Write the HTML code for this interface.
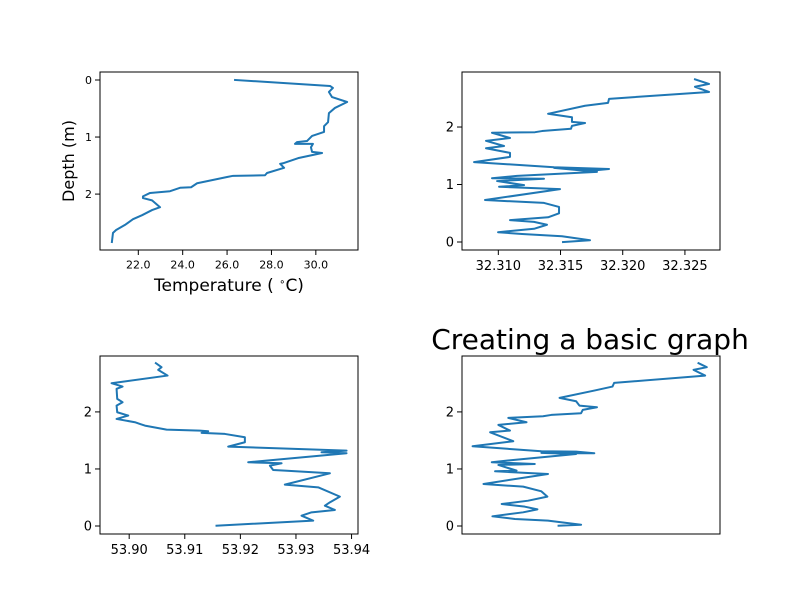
<!DOCTYPE html>
<html><head><meta charset="utf-8"><style>
body{margin:0;background:#fff;}
svg{display:block;font-family:"DejaVu Sans","Liberation Sans",sans-serif;}
</style></head><body>
<svg id="fig" width="800" height="600" viewBox="0 0 800 600">
<text x="590" y="349" font-size="28" text-anchor="middle" fill="#000">Creating a basic graph</text>
<text x="229" y="291" font-size="17" text-anchor="middle" fill="#000">Temperature ( <tspan font-size="10" dy="-6">∘</tspan><tspan dy="6">C)</tspan></text>
<text transform="translate(74,161) rotate(-90)" font-size="16" text-anchor="middle" fill="#000">Depth (m)</text>
</svg>
<script>
// Panel 1: temperature profile
const tempDepth=[0,0.105,0.14,0.21,0.30,0.386,0.49,0.58,0.74,0.81,0.91,0.98,1.07,1.09,1.12,1.12,1.18,1.26,1.28,1.37,1.46,1.47,1.54,1.63,1.67,1.68,1.70,1.81,1.88,1.89,1.95,1.98,2.04,2.07,2.11,2.23,2.28,2.37,2.44,2.54,2.63,2.68,2.84];
const tempValues=[26.36,30.64,30.77,30.59,30.73,31.41,30.86,30.59,30.55,30.37,30.37,29.83,29.60,29.15,29.06,29.87,29.78,29.83,30.28,29.20,28.52,28.39,28.57,27.80,27.71,26.27,26.00,24.65,24.38,23.88,23.43,22.53,22.21,22.21,22.62,22.98,22.62,22.17,21.76,21.40,21.00,20.86,20.81];
const tempTicks=[22,24,26,28,30];
const tempTickLabels=["22.0","24.0","26.0","28.0","30.0"];
// Panel 2: salinity profile
const salDepth=[2.83,2.75,2.70,2.61,2.49,2.42,2.37,2.23,2.17,2.09,2.07,2.02,1.97,1.93,1.91,1.90,1.81,1.76,1.67,1.63,1.55,1.48,1.39,1.30,1.27,1.25,1.29,1.22,1.15,1.11,1.10,1.06,0.99,0.96,0.92,0.73,0.68,0.61,0.50,0.43,0.38,0.35,0.30,0.23,0.17,0.14,0.10,0.03,0];
const salValues=[32.32581,32.32694,32.32581,32.32694,32.31890,32.31882,32.31697,32.31400,32.31592,32.31592,32.31697,32.31592,32.31584,32.31351,32.31295,32.30949,32.31094,32.30901,32.31046,32.30901,32.31094,32.31094,32.30805,32.31448,32.31890,32.31793,32.31448,32.31793,32.31150,32.30949,32.31367,32.30990,32.31207,32.31006,32.31496,32.30893,32.31367,32.31488,32.31488,32.31400,32.31094,32.31287,32.31391,32.31287,32.30998,32.31191,32.31512,32.31737,32.31520];
const salTicks=[32.310,32.315,32.320,32.325];
const salTickLabels=["32.310","32.315","32.320","32.325"];
// Panel 3: third variable
const p3Depth=[2.854,2.784,2.737,2.637,2.503,2.444,2.404,2.228,2.170,2.111,1.994,1.936,1.877,1.819,1.789,1.760,1.690,1.673,1.661,1.632,1.614,1.556,1.468,1.392,1.322,1.292,1.275,1.117,1.099,1.058,0.982,0.971,0.924,0.725,0.678,0.515,0.415,0.357,0.281,0.240,0.181,0.094,0.006];
const p3Values=[53.90480,53.90582,53.90522,53.90690,53.89683,53.89881,53.89773,53.89785,53.89881,53.89773,53.89785,53.89983,53.89773,53.90103,53.90192,53.90282,53.90672,53.91272,53.91421,53.91302,53.91721,53.92081,53.92081,53.91781,53.93910,53.93460,53.93910,53.92141,53.92741,53.92531,53.92590,53.92800,53.93610,53.92800,53.93400,53.93790,53.93610,53.93520,53.93700,53.93280,53.93100,53.93310,53.91571];
const p3Ticks=[53.90,53.91,53.92,53.93,53.94];
const p3TickLabels=["53.90","53.91","53.92","53.93","53.94"];
// Panel 4: fourth variable (no x ticks)
const p4Depth=[2.854,2.784,2.737,2.637,2.509,2.444,2.374,2.246,2.187,2.111,2.082,2.035,1.977,1.947,1.924,1.895,1.819,1.772,1.673,1.643,1.486,1.398,1.310,1.304,1.275,1.281,1.263,1.158,1.117,1.088,1.070,0.971,0.959,0.912,0.737,0.690,0.608,0.515,0.444,0.386,0.339,0.292,0.240,0.170,0.123,0.094,0.023,0.006];
const p4Values=[715,740,700,735,460,455,400,295,345,355,408,365,360,270,245,140,195,110,145,85,155,32,240,345,400,240,345,155,90,220,110,165,100,260,65,185,240,258,200,120,190,228,185,92,160,260,360,292];
const depthTicks=[0,1,2];
const depthTickLabels=["0","1","2"];

const NS="http://www.w3.org/2000/svg";
const svg=document.getElementById('fig');
function mk(tag,attrs){const e=document.createElementNS(NS,tag);for(const k in attrs)e.setAttribute(k,attrs[k]);return e;}
function scale(d0,d1,r0,r1){return v=>r0+(v-d0)*(r1-r0)/(d1-d0);}

function panel(name,box,xdom,ydom,xs,ys,xticks,xlabels,tickFont,yTickFont){
  const g=mk('g',{});
  
  
  svg.appendChild(g);
  const X=scale(xdom[0],xdom[1],box.x,box.x+box.w);
  const Y=scale(ydom[0],ydom[1],box.y+box.h,box.y);
  let d='';
  for(let i=0;i<xs.length;i++){d+=(i?'L':'M')+X(xs[i]).toFixed(2)+','+Y(ys[i]).toFixed(2);}
  const line=mk('path',{d:d,fill:'none',stroke:'#1f77b4','stroke-width':2,'stroke-linejoin':'round','stroke-linecap':'square'});
  
  
  g.appendChild(line);
  const frame=mk('rect',{x:box.x,y:box.y,width:box.w,height:box.h,fill:'none',stroke:'#000','stroke-width':1});
  
  
  g.appendChild(frame);
  depthTicks.forEach((t,i)=>{
    const y=Y(t);
    const tk=mk('line',{x1:box.x-5,x2:box.x,y1:y,y2:y,stroke:'#000','stroke-width':1});
    
    
    g.appendChild(tk);
    const tl=mk('text',{x:box.x-8,y:y+yTickFont*0.36,'font-size':yTickFont,'text-anchor':'end',fill:'#000'});
    tl.textContent=depthTickLabels[i];
    
    
    g.appendChild(tl);
  });
  if(xticks){
    xticks.forEach((t,i)=>{
      const x=X(t);
      const tk=mk('line',{x1:x,x2:x,y1:box.y+box.h,y2:box.y+box.h+5,stroke:'#000','stroke-width':1});
      
      
      g.appendChild(tk);
      const tl=mk('text',{x:x,y:box.y+box.h+9+tickFont*0.85,'font-size':tickFont,'text-anchor':'middle',fill:'#000'});
      tl.textContent=xlabels[i];
      
      
      g.appendChild(tl);
    });
  }
}
panel('temperature-panel',{x:100,y:72,w:258,h:178},[20.274,31.90],[2.98,-0.14],tempValues,tempDepth,tempTicks,tempTickLabels,11,11);
panel('salinity-panel',{x:462,y:72,w:258,h:178},[32.30708,32.32782],[-0.139,2.957],salValues,salDepth,salTicks,salTickLabels,13,13);
panel('bottom-left-panel',{x:100,y:356,w:258,h:178},[53.89475,53.94116],[-0.14,2.98],p3Values,p3Depth,p3Ticks,p3TickLabels,13,13);
panel('bottom-right-panel',{x:462,y:356,w:258,h:178},[0,780],[-0.14,2.98],p4Values,p4Depth,null,null,13,13);
</script>
</body></html>
